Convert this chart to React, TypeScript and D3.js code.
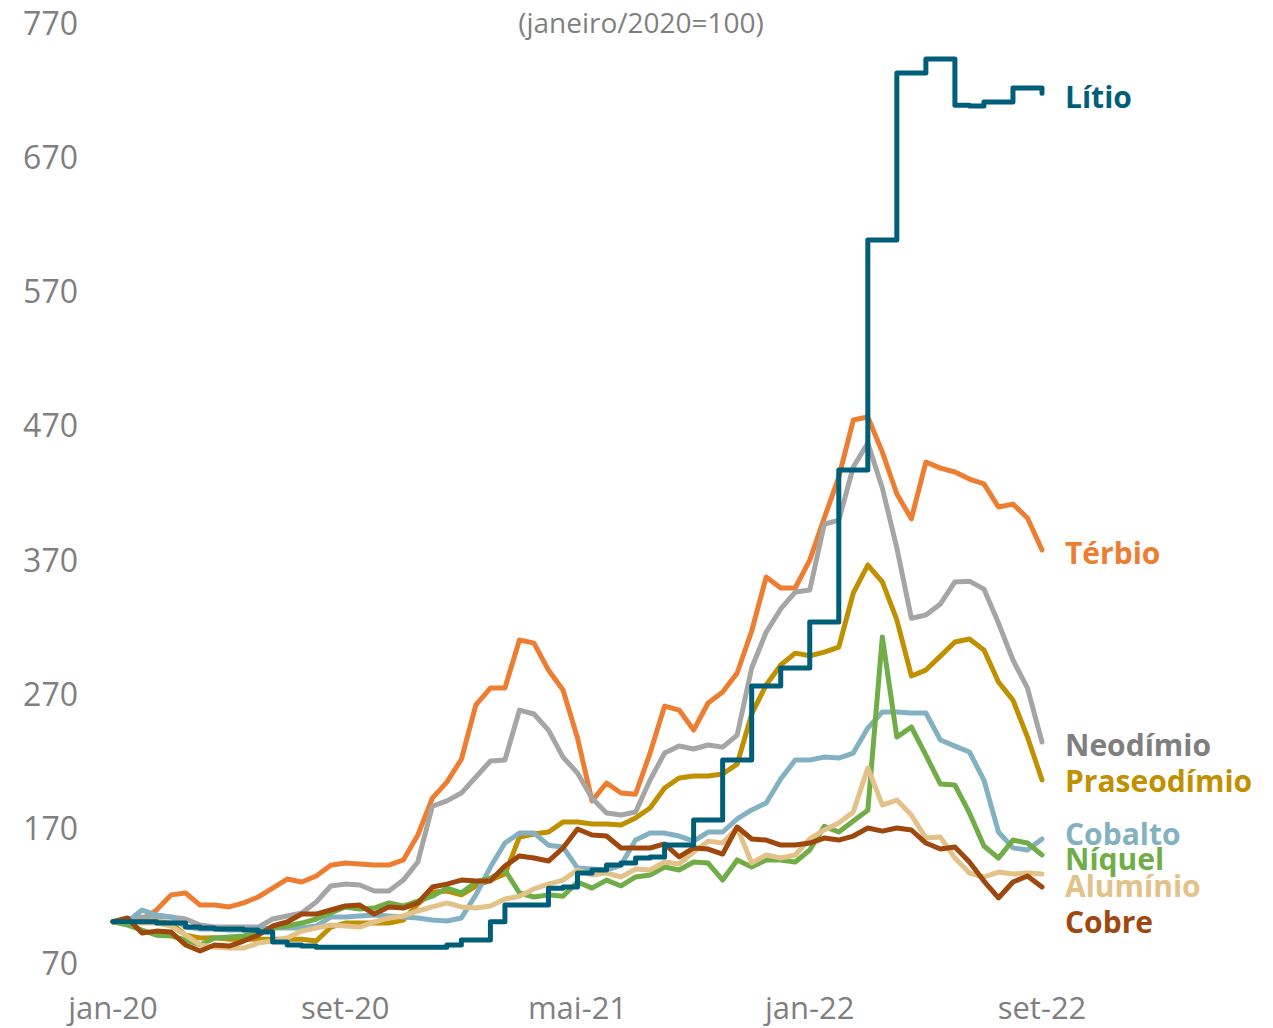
import * as d3 from 'd3';

// half-month steps from jan-20 (0) to set-22 (32)
const months = d3.range(65).map(i => i / 2);

const yTicks = [70, 170, 270, 370, 470, 570, 670, 770];
const xTickMonths = [0, 8, 16, 24, 32];
const xTickLabels = ['jan-20', 'set-20', 'mai-21', 'jan-22', 'set-22'];

const terbio = [
  100, 101, 102, 108.7, 120, 121.4, 112.4, 112.4, 111, 114,
  118.4, 125, 131.8, 129.6, 134, 142, 143.7, 143, 142.2, 142.2,
  146, 164.6, 192, 204, 221, 261.4, 274, 274, 309.8, 307.5,
  287.4, 272.5, 236.8, 190, 203.3, 195.8, 195, 225.6, 260.6, 257.6,
  242.7, 262.9, 271, 285.2, 316.5, 356.7, 348.5, 348.5, 369.3, 400.6,
  431.1, 473.6, 475.8, 449.7, 418.5, 400, 442.3, 437.8, 434.9, 429.6,
  426, 408.8, 411, 400.6, 376.8,
];
const neodimio = [
  100, 102, 103.5, 103.5, 103.5, 102, 97.5, 96, 96, 96,
  96, 102, 104.3, 106.5, 114.7, 126.6, 128, 127.3, 122.9, 122.9,
  131, 144.5, 186, 190, 195.8, 207.8, 219.7, 220.4, 257.6, 254.7,
  242.7, 222.6, 210.7, 192, 181, 179.5, 181.7, 205.5, 225.6, 230.8,
  228.6, 231.6, 230, 239, 288.9, 315.7, 332.9, 345.5, 347, 396,
  399, 438.6, 456.5, 423, 378.3, 326, 328.4, 336.6, 353, 353.6,
  347.7, 322.4, 294.9, 274, 233.8,
];
const praseodimio = [
  100, 99.8, 99.8, 99.8, 99, 90, 87.9, 88, 87, 87,
  87, 87, 87, 87, 85.6, 96, 99, 99, 99, 99,
  101.3, 113.2, 122, 122.9, 120, 126.6, 131, 135.5, 163, 165.3,
  166.8, 174.2, 174.2, 172.8, 172.8, 172, 177.2, 184.7, 199.6, 207,
  208.5, 208.5, 210, 217.4, 254.7, 276.3, 291.2, 300, 298, 300.8,
  304.5, 344.8, 365.6, 353, 324.7, 283, 287.4, 297.8, 308.3, 310.5,
  302.3, 278.5, 265, 237.5, 205.5,
];
const cobalto = [
  100, 100, 108.7, 105, 103.5, 96, 94.6, 94.6, 93.8, 93.8,
  94.6, 95.3, 95.3, 95.3, 96.8, 103.5, 103.5, 104.3, 105, 104.3,
  103.5, 102.8, 101.3, 100.5, 102.8, 120, 140.7, 158.6, 166, 166,
  157, 155.6, 140, 139.2, 138.5, 142.2, 160.8, 166, 166, 163.8,
  160, 166.8, 166.8, 176.5, 183.2, 188.4, 206.3, 220.4, 220.4, 222.6,
  221.9, 225.6, 244.2, 256.2, 256.2, 255.4, 255.4, 235.3, 230.8, 226.4,
  205.5, 166.8, 155, 153.4, 161.6,
];
const niquel = [
  100, 97.5, 93.8, 90, 89.4, 86.4, 82.7, 87.9, 88.6, 89.4,
  91.6, 95.3, 96.8, 99, 102, 106.5, 111, 109.5, 110.2, 114,
  111.7, 115.4, 119, 125, 121.4, 129.6, 132.5, 138.5, 121.4, 118.4,
  120, 119, 129.6, 125, 131, 126.6, 133.3, 134.8, 140.7, 138.5,
  144.5, 143.7, 131, 146, 140.7, 146, 146, 144.5, 153.4, 171,
  166.8, 175, 183, 312, 237.5, 245, 224, 202.5, 201.8, 181,
  156.4, 147.4, 160.8, 158.6, 149.7,
];
const aluminio = [
  100, 99.8, 99, 99, 96.8, 90, 82.7, 81.2, 80.4, 80.4,
  84.1, 85.6, 87.9, 93, 95.3, 97.5, 96.8, 96, 99.8, 102.8,
  104.3, 108, 111, 114, 111, 110.2, 111.7, 116.9, 119, 124.4,
  128, 131, 138.5, 134.8, 136.3, 133.3, 139.2, 138.5, 144.5, 143,
  151.9, 160, 158.6, 170, 143.7, 149.7, 147.4, 149.7, 161.6, 168.3,
  173.5, 181.7, 214.5, 186.9, 190.6, 179.5, 162.3, 163, 147.4, 136.3,
  133.3, 137, 135.5, 136.3, 135.5,
];
const cobre = [
  100, 102.8, 91.6, 93, 92.3, 82.7, 78.2, 82.7, 81.9, 85.6,
  90, 96.8, 99.8, 105.7, 105.7, 108.7, 111.7, 112.4, 105.7, 111,
  110.2, 114, 125.8, 128, 131, 130.3, 130.3, 141.5, 149, 147.4,
  145.2, 154.9, 169, 164.6, 163.8, 154.9, 154.9, 154.9, 157.9, 148.2,
  154.9, 154.1, 150.4, 170.5, 161.6, 160.8, 157.1, 157.1, 158.6, 162.3,
  160.8, 163.8, 169.8, 167.5, 169.8, 168.3, 158.6, 154.1, 155.6, 144.5,
  130.3, 117.7, 129.6, 134, 125.8,
];
const litio = [
  100, 100, 100, 99, 99, 96, 95.3, 94.6, 94.6, 93.8,
  92.3, 84.9, 82.7, 81.9, 81, 81, 81, 81, 81, 81,
  81, 81, 81, 82.7, 86.4, 86.4, 100, 112.4, 112.4, 112.4,
  125, 125.8, 136.3, 138.5, 142.2, 143.7, 147.4, 148.2, 157.1, 157.1,
  175.7, 175.7, 220.4, 220.4, 275.5, 275.5, 288.9, 288.9, 323.2, 323.2,
  436.3, 436.3, 607.6, 607.6, 732, 732, 742.4, 742.4, 708, 707.4,
  710.4, 710.4, 720.8, 720.8, 717,
];

// drawing order: last one on top
const series = [
  { name: 'Térbio', values: terbio, color: '#ED7D31', text: '#ED7D31', labelAt: 375, step: false },
  { name: 'Neodímio', values: neodimio, color: '#A5A5A5', text: '#7F7F7F', labelAt: 231.6, step: false },
  { name: 'Praseodímio', values: praseodimio, color: '#BF9000', text: '#BF9000', labelAt: 204.8, step: false },
  { name: 'Cobalto', values: cobalto, color: '#84B1C2', text: '#84B1C2', labelAt: 166, step: false },
  { name: 'Níquel', values: niquel, color: '#70AD47', text: '#70AD47', labelAt: 147.4, step: false },
  { name: 'Alumínio', values: aluminio, color: '#E2C288', text: '#E2C288', labelAt: 126.6, step: false },
  { name: 'Cobre', values: cobre, color: '#9E480E', text: '#9E480E', labelAt: 99.8, step: false },
  { name: 'Lítio', values: litio, color: '#005F78', text: '#005F78', labelAt: 714.8, step: true },
];

const width = 1273;
const height = 1028;
const font = '"Open Sans", sans-serif';

export default function App() {
  const x = d3.scaleLinear().domain([0, 32]).range([113, 1042]);
  const y = d3.scaleLinear().domain([70, 770]).range([962, 22]);

  const makeLine = (step: boolean) =>
    d3.line<number>()
      .x((_, i) => x(months[i]))
      .y(d => y(d))
      .curve(step ? d3.curveStepAfter : d3.curveLinear);

  return (
    <svg width={width} height={height} style={{ position: 'absolute', left: 0, top: 0, background: '#fff' }}>
      <text x={641} y={22} textAnchor="middle" dominantBaseline="central"
        fontFamily={font} fontSize={28} fill="#7F7F7F">(janeiro/2020=100)</text>

      {yTicks.map(t => (
        <text key={t} x={78} y={y(t)} textAnchor="end" dominantBaseline="central"
          fontFamily={font} fontSize={32} fill="#7F7F7F">{t}</text>
      ))}

      {xTickMonths.map((m, i) => (
        <text key={m} x={x(m)} y={1007} textAnchor="middle" dominantBaseline="central"
          fontFamily={font} fontSize={31} fill="#7F7F7F">{xTickLabels[i]}</text>
      ))}

      {series.map(s => (
        <path key={s.name} d={makeLine(s.step)(s.values) || ''} fill="none" stroke={s.color}
          strokeWidth={5} strokeLinejoin="round" strokeLinecap="round" />
      ))}

      {series.map(s => (
        <text key={s.name} x={1065} y={y(s.labelAt)} dominantBaseline="central"
          fontFamily={font} fontSize={30} fontWeight="bold" fill={s.text}>{s.name}</text>
      ))}
    </svg>
  );
}
